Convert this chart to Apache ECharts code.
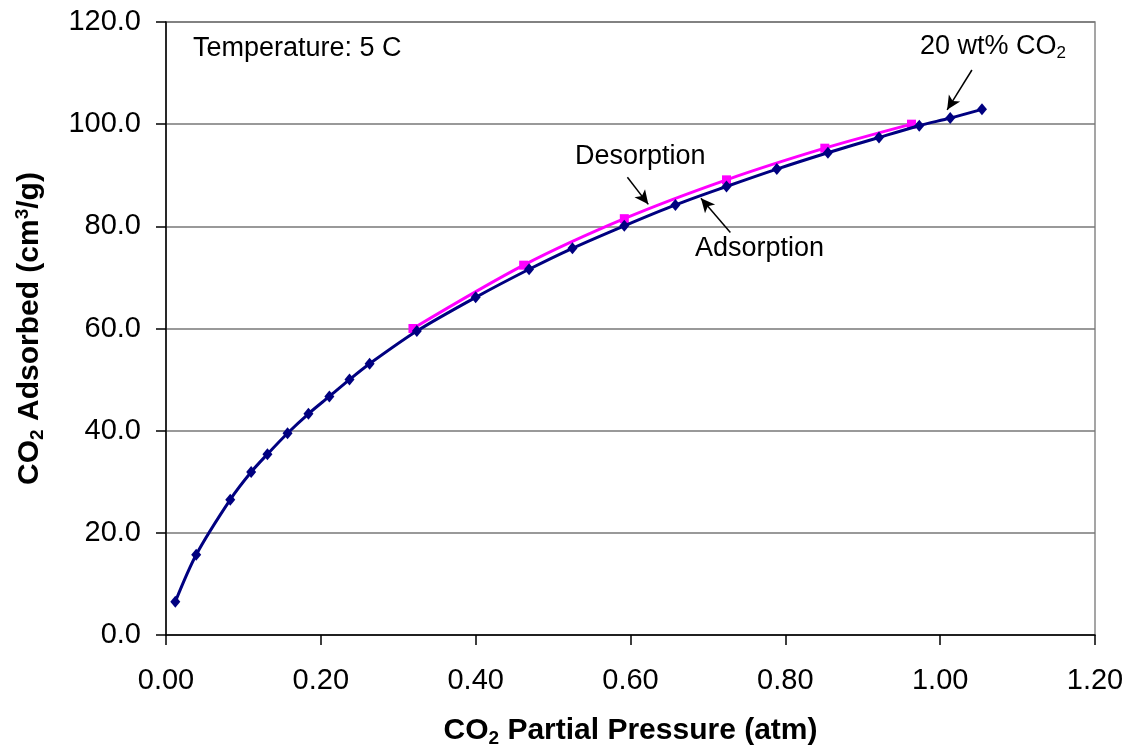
<!DOCTYPE html>
<html><head><meta charset="utf-8">
<script src="https://cdn.jsdelivr.net/npm/echarts@6/dist/echarts.min.js"></script>
<style>html,body{margin:0;padding:0;background:#fff}#c{width:1130px;height:749px}</style>
</head><body><div id="c"></div>
<script>
const adsP = [0.012, 0.039, 0.083, 0.110, 0.131, 0.157, 0.184, 0.211, 0.237, 0.263, 0.324, 0.400, 0.469, 0.525, 0.592, 0.658, 0.724, 0.789, 0.855, 0.921, 0.973, 1.013, 1.054];
const adsQ = [6.5, 15.7, 26.5, 31.9, 35.4, 39.5, 43.3, 46.7, 50.0, 53.1, 59.5, 66.1, 71.6, 75.7, 80.1, 84.2, 87.8, 91.2, 94.4, 97.4, 99.7, 101.2, 102.9];
const desP = [0.319, 0.462, 0.592, 0.724, 0.851, 0.963];
const desQ = [60.0, 72.4, 81.5, 89.1, 95.3, 100.0];
const arrows = [
  [[0.596, 89.6], [0.623, 84.3]],
  [[0.729, 78.8], [0.691, 85.5]],
  [[1.041, 110.6], [1.009, 102.8]]
];
const FONT = 'Liberation Sans, Arial, sans-serif';
const chart = echarts.init(document.getElementById('c'), null, {renderer: 'canvas'});
const zip = (a, b) => a.map((v, i) => [v, b[i]]);
const subRich = {
  b: {fontSize: 30, fontWeight: 'bold', fontFamily: FONT, color: '#000', lineHeight: 36},
  sub: {fontSize: 19, fontWeight: 'bold', fontFamily: FONT, color: '#000', lineHeight: 36, padding: [16, 0, 0, 0]},
  sup: {fontSize: 19, fontWeight: 'bold', fontFamily: FONT, color: '#000', lineHeight: 36, padding: [0, 0, 14, 0]}
};
chart.setOption({
  animation: false,
  backgroundColor: '#fff',
  grid: {left: 166, right: 35, top: 22, bottom: 114, containLabel: false, outerBoundsMode: 'none', show: true, borderColor: '#888', borderWidth: 1.5},
  xAxis: {
    type: 'value', min: 0, max: 1.2, interval: 0.2,
    axisLine: {show: true, onZero: false, lineStyle: {color: '#000', width: 1.5}},
    axisTick: {show: true, length: 10, lineStyle: {color: '#000', width: 1.5}},
    axisLabel: {fontSize: 29, fontFamily: FONT, color: '#000', margin: 31, formatter: v => v.toFixed(2)},
    splitLine: {show: false},
    name: '{b|CO}{sub|2}{b| Partial Pressure (atm)}',
    nameLocation: 'middle', nameGap: 78,
    nameTextStyle: {rich: subRich}
  },
  yAxis: {
    type: 'value', min: 0, max: 120, interval: 20,
    axisLine: {show: true, onZero: false, lineStyle: {color: '#000', width: 1.5}},
    axisTick: {show: true, length: 10, lineStyle: {color: '#000', width: 1.5}},
    axisLabel: {fontSize: 29, fontFamily: FONT, color: '#000', margin: 25, formatter: v => v.toFixed(1)},
    splitLine: {show: true, lineStyle: {color: '#777', width: 1.5}},
    name: '{b|CO}{sub|2}{b| Adsorbed (cm}{sup|3}{b|/g)}',
    nameLocation: 'middle', nameGap: 118, nameRotate: 90,
    nameTextStyle: {rich: subRich}
  },
  series: [
    {
      name: 'Desorption', type: 'line', smooth: 0.3,
      data: zip(desP, desQ),
      symbol: 'rect', symbolSize: 9,
      lineStyle: {color: '#FF00FF', width: 3},
      itemStyle: {color: '#FF00FF'},
      z: 2
    },
    {
      name: 'Adsorption', type: 'line', smooth: 0.3,
      data: zip(adsP, adsQ),
      symbol: 'diamond', symbolSize: [10, 12],
      lineStyle: {color: '#000080', width: 3},
      itemStyle: {color: '#000080'},
      z: 3,
      markLine: {
        silent: true, symbol: ['none', 'arrow'], symbolSize: [10, 14],
        label: {show: false},
        lineStyle: {color: '#000', width: 1.5, type: 'solid'},
        data: arrows.map(a => [{coord: a[0]}, {coord: a[1]}])
      }
    }
  ],
  graphic: [
    {type: 'text', left: 193, top: 35, style: {text: 'Temperature: 5 C', font: '27px ' + FONT, fill: '#000'}},
    {type: 'text', left: 575, top: 143, style: {text: 'Desorption', font: '27px ' + FONT, fill: '#000'}},
    {type: 'text', left: 695, top: 235, style: {text: 'Adsorption', font: '27px ' + FONT, fill: '#000'}},
    {type: 'text', left: 920, top: 31, style: {
      text: '{a|20 wt% CO}{s|2}',
      rich: {a: {font: '27px ' + FONT, fill: '#000', lineHeight: 36}, s: {font: '17px ' + FONT, fill: '#000', lineHeight: 36, padding: [14, 0, 0, 0]}}
    }}
  ]
});
</script></body></html>
